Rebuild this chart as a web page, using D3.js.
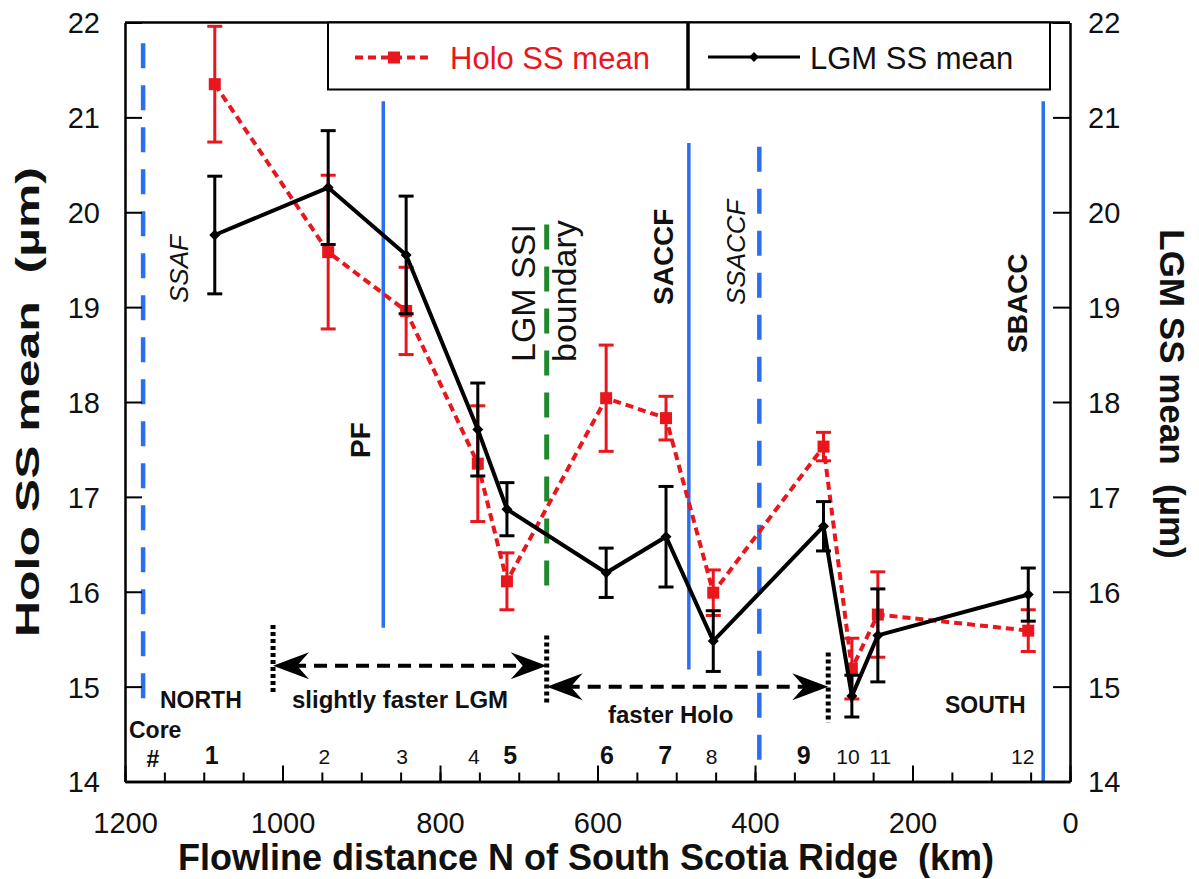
<!DOCTYPE html>
<html>
<head>
<meta charset="utf-8">
<script src="https://cdn.jsdelivr.net/npm/d3@7"></script>
<style>
body { margin: 0; background: #fff; }
text { font-family: "Liberation Sans", Arial, Helvetica, sans-serif; white-space: pre; }
</style>
</head>
<body>
<svg id="graph"></svg>
<script>
// core stations along the flowline (km N of South Scotia Ridge)
var coreIds = ["1", "2", "3", "4", "5", "6", "7", "8", "9", "10", "11", "12"];
var coreKm = [1086, 942, 843, 752, 715, 589, 513, 453, 313, 277, 244, 53];
var coreLabelKm = [1090, 947, 848, 757, 711, 588, 514, 455, 338, 282, 241, 60];
var coreBold = [true, false, false, false, true, true, true, false, true, false, false, false];

var holoMean = [21.35, 19.58, 18.96, 17.35, 16.11, 18.04, 17.83, 15.99, 17.53, 15.19, 15.76, 15.59];
var holoErr = [0.61, 0.81, 0.46, 0.61, 0.30, 0.56, 0.23, 0.24, 0.15, 0.32, 0.45, 0.22];
var lgmMean = [19.76, 20.26, 19.55, 17.71, 16.87, 16.20, 16.58, 15.48, 16.69, 14.90, 15.54, 15.97];
var lgmErr = [0.62, 0.60, 0.62, 0.49, 0.28, 0.26, 0.53, 0.32, 0.26, 0.22, 0.49, 0.28];

var xTicks = [1200, 1000, 800, 600, 400, 200, 0];
var xMinorTicks = d3.range(0, 1201, 50);
var yTicks = [14, 15, 16, 17, 18, 19, 20, 21, 22];

// fronts / boundaries: name, position (km) and vertical extent (um)
var frontNames = ["SSAF", "PF", "LGM SSI boundary", "SACCF", "SSACCF", "SBACC"];
var frontKm = [1177, 872, 664.5, 484, 394.5, 34];
var frontTop = [21.78, 21.17, 19.87, 20.73, 20.69, 21.17];
var frontBottom = [14.86, 15.62, 16.05, 15.18, 14.23, 14.0];

document.addEventListener("DOMContentLoaded", function(event) {
	var margin = {top: 22.5, left: 125, right: 129, bottom: 97.5},
		width = 1199 - margin.left - margin.right,
		height = 879 - margin.top - margin.bottom,
		graph = d3.select("#graph"),
		g;

	graph.attr("width", 1199).attr("height", 879);
	g = graph.append("g").attr("transform", "translate(" + margin.left + "," + margin.top + ")");

	var red = "#e8161d", blue = "#2b6ff0", green = "#1f8a2c";

	var x = d3.scaleLinear().domain([1200, 0]).range([0, width]),
		y = d3.scaleLinear().domain([14, 22]).range([height, 0]);

	// front lines (behind data)
	frontNames.forEach(function(name, i) {
		var line = g.append("line")
			.attr("x1", x(frontKm[i])).attr("x2", x(frontKm[i]))
			.attr("y1", y(frontTop[i])).attr("y2", y(frontBottom[i]));
		if (name === "LGM SSI boundary") {
			line.attr("stroke", green).attr("stroke-width", 5).attr("stroke-dasharray", "25,17");
		} else if (name === "SSAF" || name === "SSACCF") {
			line.attr("stroke", blue).attr("stroke-width", 4.5).attr("stroke-dasharray", "25,17");
		} else {
			line.attr("stroke", blue).attr("stroke-width", 3.5);
		}
	});

	// axes
	g.append("g")
		.attr("class", "axis xminor")
		.attr("transform", "translate(0," + height + ")")
		.call(d3.axisBottom(x).tickValues(xMinorTicks).tickSize(-9).tickSizeOuter(0).tickFormat(""));
	g.append("g")
		.attr("class", "axis xaxis")
		.attr("transform", "translate(0," + height + ")")
		.call(d3.axisBottom(x).tickValues(xTicks).tickSize(-16).tickSizeOuter(0).tickPadding(31).tickFormat(d3.format("d")));
	g.append("g")
		.attr("class", "axis yaxis")
		.call(d3.axisLeft(y).tickValues(yTicks).tickSize(-17).tickSizeOuter(0).tickPadding(25));
	g.append("g")
		.attr("class", "axis yaxis2")
		.attr("transform", "translate(" + width + ",0)")
		.call(d3.axisRight(y).tickValues(yTicks).tickSize(-17).tickSizeOuter(0).tickPadding(18));
	g.append("line")
		.attr("x1", 0).attr("x2", width).attr("y1", 0).attr("y2", 0)
		.attr("stroke", "#000").attr("stroke-width", 2.5);

	g.selectAll(".axis .domain").attr("stroke", "#000").attr("stroke-width", 2.5);
	g.selectAll(".axis .tick line").attr("stroke", "#000").attr("stroke-width", 2);
	g.selectAll(".axis text").attr("fill", "#111").style("font-size", "29px");
	g.selectAll(".yaxis text, .yaxis2 text").attr("dy", "0.36em");

	// data helpers
	var holo = coreKm.map(function(k, i) { return {km: k, mean: holoMean[i], err: holoErr[i]}; });
	var lgm = coreKm.map(function(k, i) { return {km: k, mean: lgmMean[i], err: lgmErr[i]}; });

	function errorBars(data, color, width) {
		var eb = g.append("g").attr("stroke", color).attr("stroke-width", width);
		data.forEach(function(d) {
			var px = x(d.km), top = y(d.mean + d.err), bot = y(d.mean - d.err);
			eb.append("line").attr("x1", px).attr("x2", px).attr("y1", top).attr("y2", bot);
			eb.append("line").attr("x1", px - 7.5).attr("x2", px + 7.5).attr("y1", top).attr("y2", top);
			eb.append("line").attr("x1", px - 7.5).attr("x2", px + 7.5).attr("y1", bot).attr("y2", bot);
		});
	}

	var lineGen = d3.line()
		.x(function(d) { return x(d.km); })
		.y(function(d) { return y(d.mean); });

	// Holocene series
	errorBars(holo, red, 3);
	g.append("path")
		.datum(holo)
		.attr("fill", "none")
		.attr("stroke", red)
		.attr("stroke-width", 4)
		.attr("stroke-dasharray", "8,5")
		.attr("d", lineGen);
	g.selectAll("rect.holo")
		.data(holo)
		.enter().append("rect")
			.attr("class", "holo")
			.attr("x", function(d) { return x(d.km) - 6; })
			.attr("y", function(d) { return y(d.mean) - 6; })
			.attr("width", 12).attr("height", 12)
			.attr("fill", red);

	// LGM series
	errorBars(lgm, "#000", 3);
	g.append("path")
		.datum(lgm)
		.attr("fill", "none")
		.attr("stroke", "#000")
		.attr("stroke-width", 4)
		.attr("d", lineGen);
	g.selectAll("path.lgm")
		.data(lgm)
		.enter().append("path")
			.attr("class", "lgm")
			.attr("transform", function(d) { return "translate(" + x(d.km) + "," + y(d.mean) + ")"; })
			.attr("d", "M0,-5.5L5.5,0L0,5.5L-5.5,0Z")
			.attr("fill", "#000");

	// front labels (rotated)
	function vtext(px, py, str, size, weight, style, rot) {
		return graph.append("text")
			.attr("transform", "translate(" + px + "," + py + ") rotate(" + (rot || -90) + ")")
			.style("font-size", size + "px")
			.style("font-weight", weight || "normal")
			.style("font-style", style || "normal")
			.attr("fill", "#111")
			.text(str);
	}
	vtext(188, 303, "SSAF", 26, "normal", "italic");
	vtext(370, 458, "PF", 28, "bold");
	vtext(535, 362, "LGM SSI", 34);
	vtext(576, 362, "boundary", 34);
	vtext(673, 305, "SACCF", 28, "bold");
	vtext(745, 305, "SSACCF", 26, "normal", "italic");
	vtext(1027, 353, "SBACC", 28, "bold");

	// arrows
	var arrowY1 = 15.22, arrowY2 = 15.0;
	function dotted(km, v0, v1) {
		g.append("line")
			.attr("x1", x(km)).attr("x2", x(km)).attr("y1", y(v0)).attr("y2", y(v1))
			.attr("stroke", "#000").attr("stroke-width", 5).attr("stroke-dasharray", "4,3");
	}
	function head(px, py, dir) {
		var L = 36, H = 13.5, N = 24;
		g.append("path")
			.attr("d", "M" + px + "," + py +
				"L" + (px - dir * L) + "," + (py - H) +
				"L" + (px - dir * N) + "," + py +
				"L" + (px - dir * L) + "," + (py + H) + "Z")
			.attr("fill", "#000");
	}
	function arrow(k0, k1, v) {
		var a = x(k0), b = x(k1), py = y(v);
		g.append("line")
			.attr("x1", a + 20).attr("x2", b - 20).attr("y1", py).attr("y2", py)
			.attr("stroke", "#000").attr("stroke-width", 4).attr("stroke-dasharray", "13,8");
		head(a, py, -1);
		head(b, py, 1);
	}
	dotted(1012, 15.65, 14.92);
	dotted(664.5, 15.54, 14.81);
	dotted(307, 15.36, 14.62);
	arrow(1012, 664.5, arrowY1);
	arrow(664.5, 307, arrowY2);

	function label(px, py, str, size, weight, anchor) {
		return graph.append("text")
			.attr("x", px).attr("y", py)
			.attr("text-anchor", anchor || "start")
			.style("font-size", size + "px")
			.style("font-weight", weight || "normal")
			.attr("fill", "#111")
			.text(str);
	}
	label(160, 708, "NORTH", 23, "bold");
	label(292, 708, "slightly faster LGM", 24, "bold");
	label(608, 723, "faster Holo", 24, "bold");
	label(945, 713, "SOUTH", 23, "bold");
	label(129, 738, "Core", 23, "bold");
	label(153, 767, "#", 23, "bold", "middle");

	// core numbers
	coreIds.forEach(function(id, i) {
		label(margin.left + x(coreLabelKm[i]), 764, id, coreBold[i] ? 25 : 21, coreBold[i] ? "bold" : "normal", "middle");
	});

	// axis titles
	label(586, 870, "Flowline distance N of South Scotia Ridge  (km)", 36, "bold", "middle");
	vtext(39, 402, "Holo SS mean  (\u00b5m)", 33, "bold")
		.attr("text-anchor", "middle")
		.attr("textLength", 470)
		.attr("lengthAdjust", "spacingAndGlyphs");
	vtext(1160, 394, "LGM SS mean  (\u00b5m)", 35, "bold", "normal", 90).attr("text-anchor", "middle");

	// legend
	var lg = graph.append("g");
	lg.append("rect")
		.attr("x", 328).attr("y", 22.5).attr("width", 722).attr("height", 67)
		.attr("fill", "#fff").attr("stroke", "#000").attr("stroke-width", 2);
	lg.append("line")
		.attr("x1", 688).attr("x2", 688).attr("y1", 22.5).attr("y2", 89.5)
		.attr("stroke", "#000").attr("stroke-width", 3.5);
	lg.append("line")
		.attr("x1", 355).attr("x2", 433).attr("y1", 57.5).attr("y2", 57.5)
		.attr("stroke", red).attr("stroke-width", 4).attr("stroke-dasharray", "8,5");
	lg.append("rect").attr("x", 388).attr("y", 51.5).attr("width", 12).attr("height", 12).attr("fill", red);
	lg.append("text").attr("x", 450).attr("y", 69).style("font-size", "31px").attr("fill", red).text("Holo SS mean");
	lg.append("line")
		.attr("x1", 708).attr("x2", 800).attr("y1", 57).attr("y2", 57)
		.attr("stroke", "#000").attr("stroke-width", 3);
	lg.append("path").attr("transform", "translate(754,57)").attr("d", "M0,-5L5,0L0,5L-5,0Z").attr("fill", "#000");
	lg.append("text").attr("x", 810).attr("y", 69).style("font-size", "31px").attr("fill", "#111").text("LGM SS mean");
});
</script>
</body>
</html>
